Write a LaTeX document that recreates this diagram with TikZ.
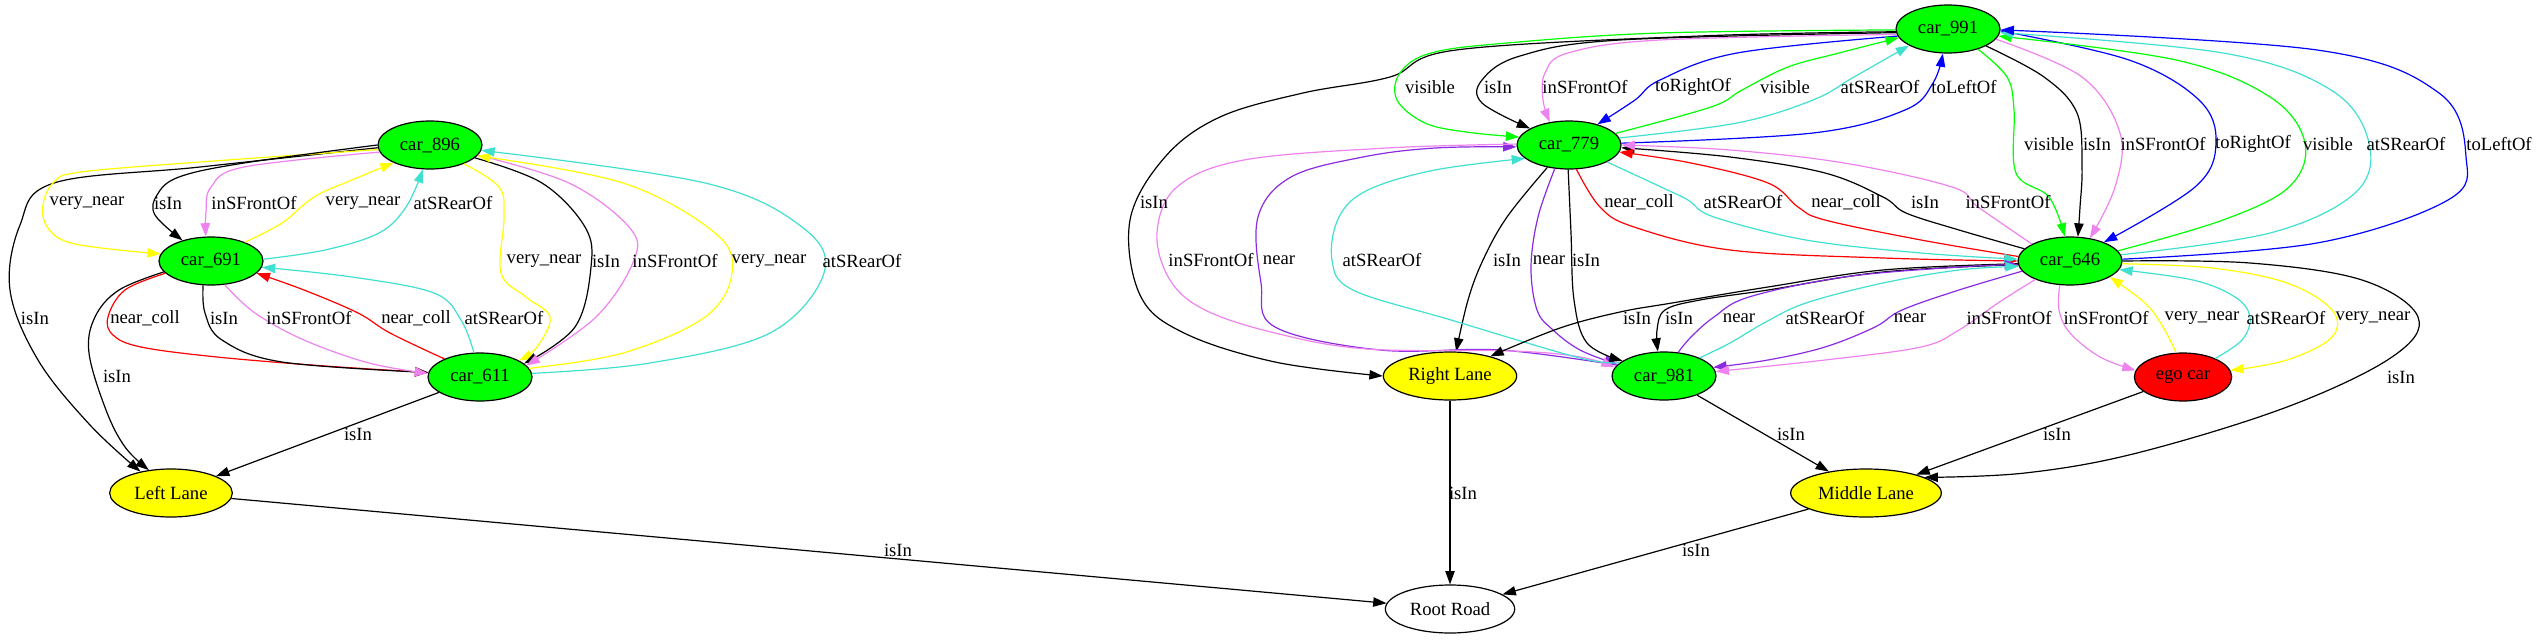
\documentclass[tikz,border=0pt]{standalone}
\usepackage{fontspec}
\setmainfont{Liberation Serif}
\usetikzlibrary{shapes.geometric,arrows.meta}
\definecolor{gvgreen}{HTML}{00FF00}
\definecolor{gvviolet}{HTML}{EE82EE}
\definecolor{gvpurple}{HTML}{8A2BE2}
\definecolor{gvturq}{HTML}{40E0D0}
\definecolor{gvyellow}{HTML}{FFFF00}
\definecolor{gvred}{HTML}{FF0000}
\definecolor{gvblue}{HTML}{0000FF}
\begin{document}
\begin{tikzpicture}[x=0.75pt,y=-0.75pt,
  nd/.style={ellipse, draw, line width=0.9pt, minimum height=36pt, inner sep=0pt, font=\fontsize{14}{16}\selectfont},
  car/.style={nd, fill=gvgreen, minimum width=78pt},
  lane/.style={nd, fill=gvyellow},
  e/.style={line width=0.9pt, -{Triangle[length=10pt,width=7pt]}},
  sm/.style={smooth, tension=0.6},
  lbl/.style={font=\fontsize{14}{16}\selectfont, inner sep=0pt}]
\useasboundingbox (0,0) rectangle (2537,639);
% nodes
\node[car] (c896) at (430,145) {car\_896};
\node[car] (c691) at (211,261) {car\_691};
\node[car] (c611) at (480,377) {car\_611};
\node[lane, minimum width=92pt] (LL) at (171,493) {Left Lane};
\node[nd, fill=white, minimum width=97pt] (RR) at (1450,609) {Root Road};
\node[car] (c991) at (1948,29) {car\_991};
\node[car] (c779) at (1569,145) {car\_779};
\node[car] (c646) at (2070,261) {car\_646};
\node[lane, minimum width=100pt] (RL) at (1450,376) {Right Lane};
\node[car] (c981) at (1664,376) {car\_981};
\node[nd, fill=gvred, minimum width=73pt] (ego) at (2183,377) {ego car};
\node[lane, minimum width=113pt] (ML) at (1866,493) {Middle Lane};
% ---------- left component edges
\draw[e,black] plot[sm] coordinates {(c896.183) (200,167) (54,183) (20,225) (10,290) (38,360) (90,425) (LL.145)};
\draw[e,gvyellow] plot[sm] coordinates {(c896.185) (200,162) (81,172) (54,182) (43,205) (48,228) (75,244) (c691.172)};
\draw[e,black] plot[sm] coordinates {(c896.180) (244,163) (179,177) (157,195) (155,215) (c691.144)};
\draw[e,gvviolet] plot[sm] coordinates {(c896.188) (244,167) (211,187) (206,212) (c691.102)};
\draw[e,gvyellow] plot[sm] coordinates {(c691.29) (282,223) (314,197) (352,180) (c896.206)};
\draw[e,gvturq] plot[sm] coordinates {(c691.2) (325,250) (379,233) (406,207) (c896.254)};
\draw[e,gvyellow] plot[sm] coordinates {(c896.331) (499,187) (504,217) (501,273) (526,297) (550,317) (537,347) (c611.23)};
\draw[e,black] plot[sm] coordinates {(c896.344) (542,183) (585,227) (591,267) (575,327) (c611.17)};
\draw[e,gvviolet] plot[sm] coordinates {(c896.348) (569,183) (629,227) (634,260) (596,317) (c611.14)};
\draw[e,gvyellow] plot[sm] coordinates {(c611.10) (623,353) (705,317) (732,273) (715,233) (623,183) (c896.347)};
\draw[e,gvturq] plot[sm] coordinates {(c611.4) (650,363) (770,333) (824,273) (802,227) (705,183) (c896.354)};
\draw[e,gvred] plot[sm] coordinates {(c691.195) (125,290) (108,317) (113,335) (141,347) (217,357) (325,366) (c611.175)};
\draw[e,black] plot[sm] coordinates {(c691.252) (205,313) (222,340) (282,362) (c611.175)};
\draw[e,gvviolet] plot[sm] coordinates {(c691.300) (255,313) (304,340) (369,363) (c611.176)};
\draw[e,gvred] plot[sm] coordinates {(c611.153) (390,333) (358,313) (304,290) (c691.345)};
\draw[e,gvturq] plot[sm] coordinates {(c611.104) (461,320) (434,293) (352,277) (c691.353)};
\draw[e,black] plot[sm] coordinates {(c691.193) (119,290) (95,317) (89,353) (106,410) (125,447) (LL.134)};
\draw[e,black] (c611) -- (LL);
\draw[e,black] (LL) -- (RR);
% ---------- right component edges
\draw[e,black] plot[sm] coordinates {(c991.183) (1700,36) (1456,50) (1390,77) (1303,93) (1220,117) (1165,157) (1130,220) (1140,295) (1184,333) (1275,362) (RL.180)};
\draw[e,gvgreen] plot[sm] coordinates {(c991.181) (1660,33) (1507,43) (1431,53) (1400,73) (1397,100) (1425,123) (1466,132) (c779.171)};
\draw[e,black] plot[sm] coordinates {(c991.184) (1620,40) (1520,56) (1482,80) (1482,103) (c779.157)};
\draw[e,gvviolet] plot[sm] coordinates {(c991.186) (1660,40) (1568,53) (1545,73) (1543,100) (c779.130)};
\draw[e,gvblue] plot[sm] coordinates {(c991.188) (1737,53) (1660,80) (1635,100) (c779.36)};
\draw[e,gvgreen] plot[sm] coordinates {(c779.14) (1711,107) (1742,90) (1788,67) (1839,53) (c991.190)};
\draw[e,gvturq] plot[sm] coordinates {(c779.8) (1737,123) (1813,100) (1854,77) (c991.203)};
\draw[e,gvblue] plot[sm] coordinates {(c779.2) (1813,133) (1905,110) (1933,83) (c991.258)};
\draw[e,gvgreen] plot[sm] coordinates {(c991.326) (2007,77) (2014,110) (2016,173) (2049,197) (c646.102)};
\draw[e,black] plot[sm] coordinates {(c991.336) (2044,77) (2077,113) (2082,167) (2080,207) (c646.72)};
\draw[e,gvviolet] plot[sm] coordinates {(c991.348) (2082,77) (2120,133) (2115,187) (c646.49)};
\draw[e,gvblue] plot[sm] coordinates {(c991.358) (2129,60) (2199,100) (2216,143) (2195,187) (c646.29)};
\draw[e,gvgreen] plot[sm] coordinates {(c646.12) (2223,220) (2289,187) (2305,143) (2270,97) (2176,60) (c991.352)};
\draw[e,gvturq] plot[sm] coordinates {(c646.7) (2270,233) (2355,193) (2369,143) (2331,90) (2223,53) (c991.356)};
\draw[e,gvblue] plot[sm] coordinates {(c646.2) (2317,243) (2448,200) (2466,157) (2439,93) (2317,50) (c991.359)};
\draw[e,gvred] plot[sm] coordinates {(c779.287) (1600,207) (1634,227) (1730,250) (1883,258) (c646.180)};
\draw[e,black] plot[sm] coordinates {(c646.165) (1959,230) (1906,213) (1883,197) (1825,173) (1730,157) (c779.357)};
\draw[e,gvred] plot[sm] coordinates {(c646.175) (1921,240) (1825,220) (1798,207) (1768,183) (1691,163) (c779.352)};
\draw[e,gvviolet] plot[sm] coordinates {(c646.156) (1978,207) (1952,187) (1844,163) (1730,150) (c779.0)};
\draw[e,gvturq] plot[sm] coordinates {(c779.336) (1661,187) (1688,200) (1714,217) (1806,240) (1921,253) (c646.178)};
\draw[e,black] plot[sm] coordinates {(c779.226) (1507,217) (1483,260) (1468,300) (RL.76)};
\draw[e,gvpurple] plot[sm] coordinates {(c779.239) (1538,217) (1531,267) (1537,310) (1553,330) (1580,350) (c981.166)};
\draw[e,black] plot[sm] coordinates {(c779.268) (1571,233) (1574,300) (1587,343) (c981.160)};
\draw[e,gvpurple] plot[sm] coordinates {(c981.167) (1500,350) (1380,350) (1275,327) (1261,283) (1258,217) (1291,177) (1363,157) (1435,148) (c779.182)};
\draw[e,gvviolet] plot[sm] coordinates {(c779.179) (1387,148) (1244,160) (1177,187) (1157,233) (1170,280) (1205,310) (1275,333) (1367,349) (1513,351) (1580,357) (c981.170)};
\draw[e,gvturq] plot[sm] coordinates {(c981.163) (1580,358) (1451,320) (1353,290) (1332,260) (1339,217) (1368,190) (1435,170) (c779.197)};
\draw[e,black] plot[sm] coordinates {(c646.183) (1883,270) (1768,287) (1672,303) (1620,312) (1560,328) (RL.26)};
\draw[e,black] plot[sm] coordinates {(c646.184) (1883,272) (1768,290) (1700,300) (1665,310) (1657,330) (c981.104)};
\draw[e,gvpurple] plot[sm] coordinates {(c981.59) (1691,337) (1714,317) (1749,297) (1844,277) (1959,267) (c646.184)};
\draw[e,gvturq] plot[sm] coordinates {(c981.27) (1730,343) (1764,323) (1806,303) (1883,283) (1959,270) (c646.186)};
\draw[e,gvpurple] plot[sm] coordinates {(c646.192) (1959,290) (1902,310) (1875,327) (1825,347) (1768,360) (c981.10)};
\draw[e,gvviolet] plot[sm] coordinates {(c646.208) (1998,303) (1959,330) (1921,347) (1825,360) (c981.5)};
\draw[e,gvviolet] plot[sm] coordinates {(c646.247) (2059,310) (2070,333) (2100,357) (ego.172)};
\draw[e,gvyellow] plot[sm] coordinates {(ego.106) (2163,327) (2145,303) (c646.338)};
\draw[e,gvturq] plot[sm] coordinates {(ego.30) (2242,340) (2250,317) (2235,297) (2193,280) (c646.350)};
\draw[e,gvyellow] plot[sm] coordinates {(c646.357) (2212,268) (2287,283) (2332,310) (2332,337) (2287,360) (ego.8)};
\draw[e,black] plot[sm] coordinates {(c646.0) (2250,263) (2362,280) (2418,317) (2392,357) (2287,407) (2137,453) (2025,473) (ML.15)};
\draw[e,black] (c981) -- (ML);
\draw[e,black] (ego) -- (ML);
\draw[e,black] (RL) -- (RR);
\draw[e,black] (ML) -- (RR);
% ---------- labels left
\node[lbl] (t1) at (87,203) {very\_near};
\node[lbl] (t2) at (168,203) {isIn};
\node[lbl] (t3) at (254,203) {inSFrontOf};
\node[lbl] (t4) at (363,203) {very\_near};
\node[lbl] (t5) at (453,203) {atSRearOf};
\node[lbl] (t6) at (35,318) {isIn};
\node[lbl] (t7) at (145,318) {near\_coll};
\node[lbl] (t8) at (224,318) {isIn};
\node[lbl] (t9) at (309,318) {inSFrontOf};
\node[lbl] (t10) at (416,318) {near\_coll};
\node[lbl] (t11) at (504,318) {atSRearOf};
\node[lbl] (t12) at (544,261) {very\_near};
\node[lbl] (t13) at (606,261) {isIn};
\node[lbl] (t14) at (675,261) {inSFrontOf};
\node[lbl] (t15) at (769,261) {very\_near};
\node[lbl] (t16) at (862,261) {atSRearOf};
\node[lbl] (t17) at (117,376) {isIn};
\node[lbl] (t18) at (358,434) {isIn};
\node[lbl] (t19) at (898,550) {isIn};
% ---------- labels right
\node[lbl] (u1) at (1430,87) {visible};
\node[lbl] (u2) at (1498,87) {isIn};
\node[lbl] (u3) at (1585,87) {inSFrontOf};
\node[lbl] (u4) at (1693,87) {toRightOf};
\node[lbl] (u5) at (1785,87) {visible};
\node[lbl] (u6) at (1880,87) {atSRearOf};
\node[lbl] (u7) at (1964,87) {toLeftOf};
\node[lbl] (u8) at (2049,144) {visible};
\node[lbl] (u9) at (2097,144) {isIn};
\node[lbl] (u10) at (2163,144) {inSFrontOf};
\node[lbl] (u11) at (2253,144) {toRightOf};
\node[lbl] (u12) at (2328,144) {visible};
\node[lbl] (u13) at (2406,144) {atSRearOf};
\node[lbl] (u14) at (2499,144) {toLeftOf};
\node[lbl] (u15) at (1154,202) {isIn};
\node[lbl] (u16) at (1639,202) {near\_coll};
\node[lbl] (u17) at (1743,202) {atSRearOf};
\node[lbl] (u18) at (1846,202) {near\_coll};
\node[lbl] (u19) at (1925,202) {isIn};
\node[lbl] (u20) at (2008,202) {inSFrontOf};
\node[lbl] (u21) at (1211,260) {inSFrontOf};
\node[lbl] (u22) at (1279,260) {near};
\node[lbl] (u23) at (1382,260) {atSRearOf};
\node[lbl] (u24) at (1507,260) {isIn};
\node[lbl] (u25) at (1549,260) {near};
\node[lbl] (u26) at (1586,260) {isIn};
\node[lbl] (u27) at (1637,318) {isIn};
\node[lbl] (u28) at (1679,318) {isIn};
\node[lbl] (u29) at (1739,318) {near};
\node[lbl] (u30) at (1825,318) {atSRearOf};
\node[lbl] (u31) at (1910,318) {near};
\node[lbl] (u32) at (2009,318) {inSFrontOf};
\node[lbl] (u33) at (2106,318) {inSFrontOf};
\node[lbl] (u34) at (2202,318) {very\_near};
\node[lbl] (u35) at (2286,318) {atSRearOf};
\node[lbl] (u36) at (2373,318) {very\_near};
\node[lbl] (u37) at (2401,377) {isIn};
\node[lbl] (u38) at (1791,434) {isIn};
\node[lbl] (u39) at (2057,434) {isIn};
\node[lbl] (u40) at (1463,493) {isIn};
\node[lbl] (u41) at (1696,550) {isIn};
\end{tikzpicture}
\end{document}
